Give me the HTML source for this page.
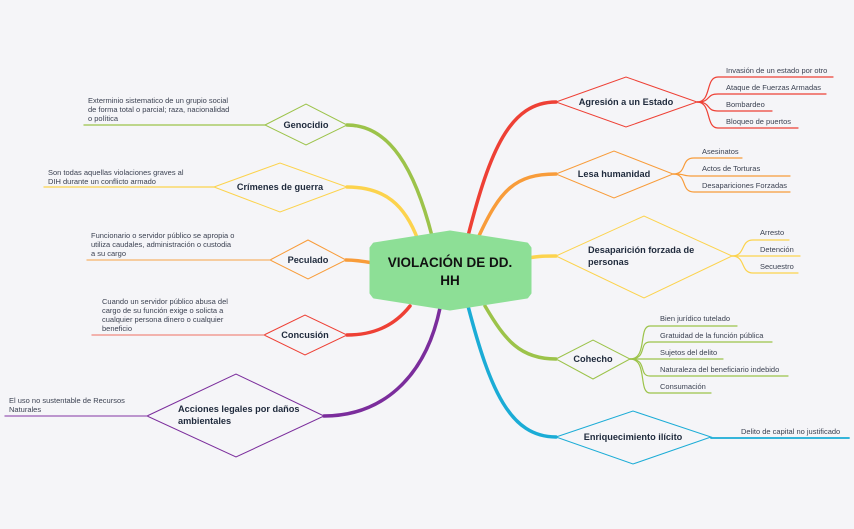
<!DOCTYPE html>
<html><head><meta charset="utf-8"><style>
html,body{margin:0;padding:0;background:#f5f5f8;}
svg{display:block;font-family:"Liberation Sans",sans-serif;}
.b{font-weight:bold;font-size:9.2px;fill:#1f2a3c;}
.s{font-size:7.5px;fill:#3c4252;}
</style></head><body>
<svg width="854" height="529" viewBox="0 0 854 529">
<rect width="854" height="529" fill="#f5f5f8"/>
<g fill="none" stroke-linecap="round">
<path d="M468,236 C490,150 510,102 556,102" stroke="#ee4035" stroke-width="3.5"/>
<path d="M478,238 C500,190 515,174 556,174" stroke="#f89c3a" stroke-width="3.5"/>
<path d="M528,258 C540,256 545,256 556,256" stroke="#fcd34d" stroke-width="3.5"/>
<path d="M485,306 C505,340 520,359 556,359" stroke="#9cc34a" stroke-width="3.5"/>
<path d="M468,306 C490,390 510,437 556,437" stroke="#1bacd6" stroke-width="3.5"/>
<path d="M432,236 C415,170 390,125 347,125" stroke="#9cc34a" stroke-width="3.5"/>
<path d="M418,240 C405,205 385,187 347,187" stroke="#fcd34d" stroke-width="3.5"/>
<path d="M373,263 C362,261 355,260 346,260" stroke="#f89c3a" stroke-width="3.5"/>
<path d="M410,306 C395,325 375,335 347,335" stroke="#ee4035" stroke-width="3.5"/>
<path d="M440,308 C425,380 380,416 324,416" stroke="#7b2d9c" stroke-width="3.5"/>
<polygon points="556,102 626,77 697,102 626,127" stroke="#ee4035" fill="#f5f5f8"/>
<polygon points="556,174 614,151 673,174 614,198" stroke="#f89c3a" fill="#f5f5f8"/>
<polygon points="556,256 644,216 732,256 644,298" stroke="#fcd34d" fill="#f5f5f8"/>
<polygon points="556,359 593,340 630,359 593,379" stroke="#9cc34a" fill="#f5f5f8"/>
<polygon points="556,437 633,411 711,437 633,464" stroke="#1bacd6" fill="#f5f5f8"/>
<polygon points="265,125 306,104 347,125 306,145" stroke="#9cc34a" fill="#f5f5f8"/>
<polygon points="214,187 280,163 347,187 280,212" stroke="#fcd34d" fill="#f5f5f8"/>
<polygon points="270,260 308,240 346,260 308,279" stroke="#f89c3a" fill="#f5f5f8"/>
<polygon points="264,335 305,315 347,335 305,355" stroke="#ee4035" fill="#f5f5f8"/>
<polygon points="147,416 236,374 324,416 236,457" stroke="#7b2d9c" fill="#f5f5f8"/>
<path d="M84,125 H265" stroke="#9cc34a" stroke-width="1.3"/>
<path d="M44,187 H214" stroke="#fcd34d" stroke-width="1.3"/>
<path d="M87,260 H270" stroke="#f8b56a" stroke-width="1.3"/>
<path d="M92,335 H264" stroke="#f08a80" stroke-width="1.3"/>
<path d="M5,416 H147" stroke="#9b5cb5" stroke-width="1.3"/>
<g stroke="#ee4035" stroke-width="1.2">
<path d="M697,102 C712,102 705,77 718,77 H833"/>
<path d="M697,102 C712,102 705,94 718,94 H826"/>
<path d="M697,102 C712,102 705,111 718,111 H772"/>
<path d="M697,102 C712,102 705,128 718,128 H798"/>
</g>
<g stroke="#f89c3a" stroke-width="1.2">
<path d="M673,174 C688,174 680,158 694,158 H742"/>
<path d="M673,174 C688,174 680,176 694,176 H790"/>
<path d="M673,174 C688,174 680,192 694,192 H790"/>
</g>
<g stroke="#fcd34d" stroke-width="1.2">
<path d="M732,256 C746,256 740,240 753,240 H789"/>
<path d="M732,256 H800"/>
<path d="M732,256 C746,256 740,273 753,273 H798"/>
</g>
<g stroke="#9cc34a" stroke-width="1.2">
<path d="M630,359 C648,359 638,326 650,326 H737"/>
<path d="M630,359 C648,359 638,342 650,342 H772"/>
<path d="M630,359 H723"/>
<path d="M630,359 C648,359 638,376 650,376 H788"/>
<path d="M630,359 C648,359 638,393 650,393 H711"/>
</g>
<path d="M711,438 H849" stroke="#1bacd6" stroke-width="1.8"/>
</g>
<polygon points="374,244 450,232 527,244 530,248 530,293 527,297 450,309 374,297 371,293 371,248" fill="#8ddf96" stroke="#8ddf96" stroke-width="3" stroke-linejoin="round"/>
<text x="450" y="267" text-anchor="middle" font-size="13.5" font-weight="bold" fill="#111">VIOLACIÓN DE DD.</text>
<text x="450" y="285" text-anchor="middle" font-size="13.5" font-weight="bold" fill="#111">HH</text>
<text class="b" x="626" y="105" text-anchor="middle">Agresión a un Estado</text>
<text class="b" x="614" y="177" text-anchor="middle">Lesa humanidad</text>
<text class="b" x="588" y="253">Desaparición forzada de</text>
<text class="b" x="588" y="265">personas</text>
<text class="b" x="593" y="362" text-anchor="middle">Cohecho</text>
<text class="b" x="633" y="440" text-anchor="middle">Enriquecimiento ilícito</text>
<text class="b" x="306" y="128" text-anchor="middle">Genocidio</text>
<text class="b" x="280" y="190" text-anchor="middle">Crímenes de guerra</text>
<text class="b" x="308" y="263" text-anchor="middle">Peculado</text>
<text class="b" x="305" y="338" text-anchor="middle">Concusión</text>
<text class="b" x="178" y="412">Acciones legales por daños</text>
<text class="b" x="178" y="424">ambientales</text>
<g class="s">
<text x="726" y="73">Invasión de un estado por otro</text>
<text x="726" y="90">Ataque de Fuerzas Armadas</text>
<text x="726" y="107">Bombardeo</text>
<text x="726" y="124">Bloqueo de puertos</text>
<text x="702" y="154">Asesinatos</text>
<text x="702" y="171">Actos de Torturas</text>
<text x="702" y="188">Desapariciones Forzadas</text>
<text x="760" y="235">Arresto</text>
<text x="760" y="252">Detención</text>
<text x="760" y="269">Secuestro</text>
<text x="660" y="321">Bien jurídico tutelado</text>
<text x="660" y="338">Gratuidad de la función pública</text>
<text x="660" y="355">Sujetos del delito</text>
<text x="660" y="372">Naturaleza del beneficiario indebido</text>
<text x="660" y="389">Consumación</text>
<text x="741" y="434">Delito de capital no justificado</text>
<text x="88" y="103">Exterminio sistematico de un grupio social</text>
<text x="88" y="112">de forma total o parcial; raza, nacionalidad</text>
<text x="88" y="121">o política</text>
<text x="48" y="175">Son todas aquellas violaciones graves al</text>
<text x="48" y="184">DIH durante un conflicto armado</text>
<text x="91" y="238">Funcionario o servidor público se apropia o</text>
<text x="91" y="247">utiliza caudales, administración o custodia</text>
<text x="91" y="256">a su cargo</text>
<text x="102" y="304">Cuando un servidor público abusa del</text>
<text x="102" y="313">cargo de su función exige o solicta a</text>
<text x="102" y="322">cualquier persona dinero o cualquier</text>
<text x="102" y="331">beneficio</text>
<text x="9" y="403">El uso no sustentable de Recursos</text>
<text x="9" y="412">Naturales</text>
</g>
</svg>
</body></html>
